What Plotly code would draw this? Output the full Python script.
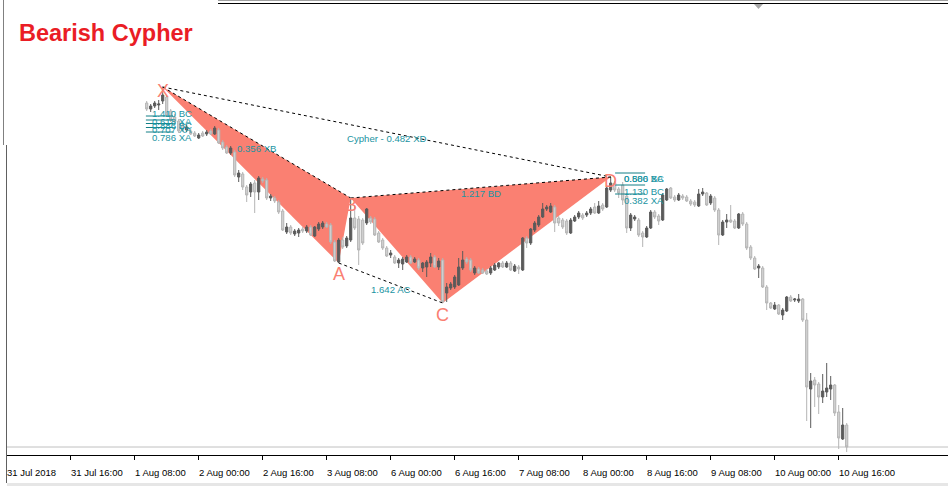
import plotly.graph_objects as go

# ---------------- data (H1 bars, x = bar number from 31 Jul 2018 00:00) ----------------
bars = list(range(35, 211))
opens = [
    1.1697, 1.1691, 1.1694, 1.1695, 1.1699, 1.1703, 1.1689, 1.1683, 1.1679, 1.1675,
    1.1670, 1.1669, 1.1667, 1.1662, 1.1667, 1.1666, 1.1669, 1.1666, 1.1670, 1.1658,
    1.1653, 1.1647, 1.1648, 1.1623, 1.1626, 1.1613, 1.1608, 1.1617, 1.1608, 1.1621,
    1.1620, 1.1602, 1.1602, 1.1598, 1.1589, 1.1568, 1.1573, 1.1566, 1.1567, 1.1571,
    1.1569, 1.1573, 1.1564, 1.1571, 1.1573, 1.1576, 1.1575, 1.1558, 1.1538, 1.1560,
    1.1554, 1.1560, 1.1582, 1.1581, 1.1580, 1.1577, 1.1582, 1.1581, 1.1567, 1.1560,
    1.1552, 1.1545, 1.1543, 1.1537, 1.1536, 1.1538, 1.1543, 1.1538, 1.1540, 1.1532,
    1.1533, 1.1537, 1.1543, 1.1533, 1.1540, 1.1507, 1.1512, 1.1513, 1.1515, 1.1532,
    1.1541, 1.1540, 1.1527, 1.1531, 1.1530, 1.1529, 1.1527, 1.1530, 1.1533, 1.1537,
    1.1533, 1.1537, 1.1529, 1.1533, 1.1530, 1.1562, 1.1557, 1.1570, 1.1575, 1.1583,
    1.1591, 1.1588, 1.1593, 1.1582, 1.1580, 1.1579, 1.1567, 1.1579, 1.1583, 1.1585,
    1.1585, 1.1587, 1.1593, 1.1587, 1.1595, 1.1593, 1.1610, 1.1617, 1.1611, 1.1615,
    1.1604, 1.1572, 1.1581, 1.1580, 1.1567, 1.1563, 1.1572, 1.1588, 1.1584, 1.1580,
    1.1600, 1.1612, 1.1603, 1.1600, 1.1604, 1.1603, 1.1599, 1.1598, 1.1594, 1.1606,
    1.1607, 1.1597, 1.1602, 1.1590, 1.1565, 1.1578, 1.1580, 1.1579, 1.1572, 1.1586,
    1.1576, 1.1553, 1.1542, 1.1532, 1.1532, 1.1513, 1.1497, 1.1491, 1.1495, 1.1485,
    1.1489, 1.1503, 1.1500, 1.1499, 1.1501, 1.1480, 1.1411, 1.1420, 1.1416, 1.1403,
    1.1408, 1.1411, 1.1415, 1.1388, 1.1361, 1.1375,
]
highs = [
    1.1699, 1.1696, 1.1699, 1.1700, 1.1713, 1.1705, 1.1691, 1.1686, 1.1681, 1.1677,
    1.1675, 1.1671, 1.1669, 1.1667, 1.1669, 1.1670, 1.1671, 1.1674, 1.1672, 1.1660,
    1.1655, 1.1654, 1.1650, 1.1630, 1.1628, 1.1615, 1.1618, 1.1620, 1.1624, 1.1623,
    1.1622, 1.1606, 1.1604, 1.1600, 1.1591, 1.1577, 1.1575, 1.1571, 1.1572, 1.1573,
    1.1575, 1.1575, 1.1574, 1.1578, 1.1579, 1.1578, 1.1577, 1.1560, 1.1562, 1.1563,
    1.1564, 1.1602, 1.1595, 1.1584, 1.1582, 1.1592, 1.1584, 1.1583, 1.1569, 1.1562,
    1.1554, 1.1550, 1.1545, 1.1542, 1.1543, 1.1545, 1.1545, 1.1543, 1.1542, 1.1538,
    1.1540, 1.1547, 1.1545, 1.1542, 1.1542, 1.1517, 1.1518, 1.1525, 1.1542, 1.1549,
    1.1543, 1.1542, 1.1534, 1.1533, 1.1532, 1.1531, 1.1534, 1.1537, 1.1538, 1.1539,
    1.1539, 1.1539, 1.1536, 1.1535, 1.1563, 1.1564, 1.1572, 1.1579, 1.1585, 1.1597,
    1.1595, 1.1597, 1.1595, 1.1584, 1.1582, 1.1581, 1.1582, 1.1585, 1.1589, 1.1587,
    1.1589, 1.1593, 1.1597, 1.1599, 1.1597, 1.1614, 1.1623, 1.1619, 1.1613, 1.1618,
    1.1607, 1.1587, 1.1585, 1.1582, 1.1569, 1.1574, 1.1590, 1.1590, 1.1586, 1.1607,
    1.1612, 1.1613, 1.1605, 1.1607, 1.1606, 1.1605, 1.1601, 1.1600, 1.1611, 1.1612,
    1.1608, 1.1606, 1.1604, 1.1592, 1.1580, 1.1586, 1.1595, 1.1581, 1.1587, 1.1588,
    1.1578, 1.1555, 1.1544, 1.1536, 1.1534, 1.1515, 1.1498, 1.1498, 1.1496, 1.1492,
    1.1504, 1.1505, 1.1502, 1.1506, 1.1502, 1.1487, 1.1427, 1.1423, 1.1418, 1.1426,
    1.1437, 1.1424, 1.1416, 1.1395, 1.1392, 1.1377,
]
lows = [
    1.1689, 1.1688, 1.1692, 1.1690, 1.1696, 1.1683, 1.1678, 1.1676, 1.1667, 1.1668,
    1.1668, 1.1665, 1.1663, 1.1661, 1.1663, 1.1664, 1.1665, 1.1665, 1.1656, 1.1650,
    1.1646, 1.1645, 1.1623, 1.1618, 1.1610, 1.1598, 1.1603, 1.1587, 1.1600, 1.1617,
    1.1600, 1.1599, 1.1597, 1.1586, 1.1569, 1.1566, 1.1565, 1.1564, 1.1563, 1.1567,
    1.1567, 1.1564, 1.1563, 1.1569, 1.1571, 1.1572, 1.1556, 1.1538, 1.1537, 1.1551,
    1.1552, 1.1558, 1.1570, 1.1535, 1.1555, 1.1575, 1.1576, 1.1564, 1.1557, 1.1550,
    1.1543, 1.1542, 1.1536, 1.1532, 1.1530, 1.1537, 1.1536, 1.1537, 1.1530, 1.1528,
    1.1523, 1.1533, 1.1532, 1.1530, 1.1497, 1.1498, 1.1510, 1.1511, 1.1514, 1.1530,
    1.1536, 1.1528, 1.1525, 1.1526, 1.1526, 1.1525, 1.1525, 1.1529, 1.1531, 1.1532,
    1.1532, 1.1529, 1.1528, 1.1526, 1.1529, 1.1552, 1.1555, 1.1568, 1.1573, 1.1582,
    1.1589, 1.1587, 1.1568, 1.1574, 1.1571, 1.1565, 1.1566, 1.1578, 1.1581, 1.1580,
    1.1583, 1.1585, 1.1586, 1.1586, 1.1589, 1.1592, 1.1608, 1.1608, 1.1602, 1.1595,
    1.1567, 1.1569, 1.1579, 1.1563, 1.1553, 1.1562, 1.1571, 1.1581, 1.1575, 1.1579,
    1.1599, 1.1601, 1.1598, 1.1599, 1.1600, 1.1598, 1.1594, 1.1593, 1.1593, 1.1604,
    1.1594, 1.1595, 1.1588, 1.1555, 1.1564, 1.1572, 1.1577, 1.1571, 1.1571, 1.1574,
    1.1550, 1.1540, 1.1530, 1.1522, 1.1512, 1.1490, 1.1491, 1.1490, 1.1485, 1.1480,
    1.1488, 1.1498, 1.1498, 1.1497, 1.1478, 1.1379, 1.1372, 1.1393, 1.1386, 1.1397,
    1.1403, 1.1400, 1.1384, 1.1351, 1.1360, 1.1348,
]
closes = [
    1.1691, 1.1694, 1.1697, 1.1696, 1.1705, 1.1685, 1.1680, 1.1678, 1.1669, 1.1670,
    1.1673, 1.1666, 1.1664, 1.1665, 1.1664, 1.1668, 1.1666, 1.1672, 1.1657, 1.1652,
    1.1647, 1.1652, 1.1625, 1.1627, 1.1613, 1.1605, 1.1616, 1.1608, 1.1622, 1.1619,
    1.1602, 1.1604, 1.1599, 1.1588, 1.1570, 1.1573, 1.1567, 1.1569, 1.1570, 1.1569,
    1.1573, 1.1565, 1.1573, 1.1576, 1.1577, 1.1573, 1.1558, 1.1539, 1.1560, 1.1553,
    1.1562, 1.1582, 1.1572, 1.1550, 1.1557, 1.1591, 1.1578, 1.1565, 1.1558, 1.1552,
    1.1544, 1.1547, 1.1537, 1.1540, 1.1541, 1.1543, 1.1537, 1.1541, 1.1532, 1.1537,
    1.1538, 1.1543, 1.1533, 1.1539, 1.1498, 1.1513, 1.1516, 1.1523, 1.1533, 1.1540,
    1.1538, 1.1530, 1.1532, 1.1527, 1.1527, 1.1526, 1.1532, 1.1535, 1.1537, 1.1533,
    1.1537, 1.1530, 1.1534, 1.1531, 1.1562, 1.1557, 1.1571, 1.1577, 1.1583, 1.1591,
    1.1593, 1.1594, 1.1577, 1.1577, 1.1573, 1.1567, 1.1580, 1.1583, 1.1587, 1.1582,
    1.1587, 1.1591, 1.1587, 1.1594, 1.1591, 1.1612, 1.1617, 1.1610, 1.1607, 1.1600,
    1.1572, 1.1585, 1.1583, 1.1565, 1.1563, 1.1572, 1.1588, 1.1583, 1.1579, 1.1605,
    1.1611, 1.1602, 1.1600, 1.1605, 1.1602, 1.1599, 1.1596, 1.1595, 1.1606, 1.1608,
    1.1595, 1.1604, 1.1590, 1.1565, 1.1578, 1.1580, 1.1578, 1.1572, 1.1586, 1.1576,
    1.1552, 1.1542, 1.1531, 1.1534, 1.1513, 1.1497, 1.1492, 1.1495, 1.1486, 1.1490,
    1.1503, 1.1499, 1.1501, 1.1501, 1.1480, 1.1413, 1.1419, 1.1415, 1.1403, 1.1409,
    1.1412, 1.1415, 1.1387, 1.1362, 1.1375, 1.1353,
]

tick_bars = list(range(0, 209, 16))
tick_labels = ["31 Jul 2018", "31 Jul 16:00", "1 Aug 08:00", "2 Aug 00:00", "2 Aug 16:00",
               "3 Aug 08:00", "6 Aug 00:00", "6 Aug 16:00", "7 Aug 08:00", "8 Aug 00:00",
               "8 Aug 16:00", "9 Aug 08:00", "10 Aug 00:00", "10 Aug 16:00"]

# harmonic pattern points
pattern_names = ["X", "A", "B", "C", "D"]
pattern_bars = [39, 83, 86, 109, 151]
pattern_prices = [1.1713, 1.1537, 1.1602, 1.1497, 1.1623]

# ratio labels (legs)
legs = [("X", "B"), ("A", "C"), ("B", "D"), ("X", "D")]
leg_texts = ["0.356 XB", "1.642 AC", "1.217 BD", "Cypher - 0.482 XD"]

# fibonacci level marks
fib_x_levels = [1.1684, 1.1680, 1.16765, 1.16725, 1.1668]
fib_x_label_prices = [1.16865, 1.1679, 1.16745, 1.16705, 1.1663]
fib_x_labels = ["1.410 BC", "0.618 XA", "0.886 BC", "0.707 XA", "0.786 XA"]
fib_d_levels = [1.1627, 1.1615, 1.1606]
fib_d_label_prices = [1.1622, 1.1622, 1.1609, 1.15995]
fib_d_labels = ["0.500 BC", "0.886 XA", "1.130 BC", "0.382 XA"]

title_text = "Bearish Cypher"

# ---------------- layout geometry ----------------
W, H = 948, 486
ML, MR, MT, MB = 6, 0, 3, 31
PW, PH = W - ML - MR, H - MT - MB
BAR_PX = 4.0
x0 = (ML - 6.7) / BAR_PX
xr = [x0, x0 + PW / BAR_PX]
yr = [1.1345, 1.1797]

def pxx(px):
    return (px - ML) / PW

def pxy(py):
    return (H - MB - py) / PH

FONT = "Liberation Sans, Arial, sans-serif"
SALMON = "#FA8072"
TEAL = "#1A94A2"
TEAL_LINE = "#127F86"

fig = go.Figure()
P = dict(zip(pattern_names, zip(pattern_bars, pattern_prices)))

shapes = []
# filled triangles (behind candles)
for tri in (("X", "A", "B"), ("B", "C", "D")):
    pts = [P[n] for n in tri]
    path = "M {},{} L {},{} L {},{} Z".format(*[v for p in pts for v in p])
    shapes.append(dict(type="path", path=path, xref="x", yref="y",
                       fillcolor=SALMON, line=dict(width=0), layer="below"))
# bid line at last close
shapes.append(dict(type="line", xref="paper", yref="y", x0=0.0, x1=1.0,
                   y0=closes[-1], y1=closes[-1], line=dict(color="#C0C0C0", width=1),
                   layer="below"))
# window decorations
shapes += [
    dict(type="line", xref="paper", yref="paper", x0=pxx(218), x1=pxx(948),
         y0=pxy(0.5), y1=pxy(0.5), line=dict(color="#A0A0A0", width=1)),
    dict(type="line", xref="paper", yref="paper", x0=pxx(218), x1=pxx(948),
         y0=pxy(3.5), y1=pxy(3.5), line=dict(color="#000000", width=1)),
    dict(type="line", xref="paper", yref="paper", x0=pxx(3.5), x1=pxx(3.5),
         y0=pxy(0), y1=pxy(145), line=dict(color="#808080", width=1)),
    dict(type="line", xref="paper", yref="paper", x0=pxx(6.5), x1=pxx(6.5),
         y0=pxy(145), y1=pxy(483), line=dict(color="#606060", width=1)),
    dict(type="rect", xref="paper", yref="paper", x0=pxx(7), x1=pxx(948),
         y0=pxy(486), y1=pxy(483), fillcolor="#E6E6E6", line=dict(width=0)),
    dict(type="path", xref="paper", yref="paper",
         path="M {},{} L {},{} L {},{} Z".format(pxx(754), pxy(4), pxx(763), pxy(4),
                                                 pxx(758.5), pxy(9)),
         fillcolor="#A8A8A8", line=dict(width=0)),
]

# candles
fig.add_trace(go.Candlestick(
    x=bars, open=opens, high=highs, low=lows, close=closes,
    increasing=dict(line=dict(color="#5A5A5A", width=1), fillcolor="#5A5A5A"),
    decreasing=dict(line=dict(color="#B4B4B4", width=1), fillcolor="#D2D2D2"),
    whiskerwidth=0, showlegend=False, hoverinfo="skip"))

# dashed pattern legs
for a, b in legs:
    fig.add_trace(go.Scatter(x=[P[a][0], P[b][0]], y=[P[a][1], P[b][1]], mode="lines",
                             line=dict(color="black", width=1, dash="3px,3px"),
                             showlegend=False, hoverinfo="skip"))

# fib level lines
for lv in fib_x_levels:
    fig.add_trace(go.Scatter(x=[34.8, 41.6], y=[lv, lv], mode="lines",
                             line=dict(color=TEAL_LINE, width=1),
                             showlegend=False, hoverinfo="skip"))
for lv in fib_d_levels:
    fig.add_trace(go.Scatter(x=[152.1, 159.6], y=[lv, lv], mode="lines",
                             line=dict(color=TEAL_LINE, width=1),
                             showlegend=False, hoverinfo="skip"))

ann = []
small = dict(family=FONT, size=9.6, color=TEAL)
for (a, b), t in zip(legs, leg_texts):
    ann.append(dict(x=(P[a][0] + P[b][0]) / 2, y=(P[a][1] + P[b][1]) / 2, text=t,
                    showarrow=False, xanchor="center", yanchor="middle", yshift=-6,
                    font=small))
for t, pr in zip(fib_x_labels, fib_x_label_prices):
    ann.append(dict(x=36.3, y=pr, text=t, showarrow=False, xanchor="left",
                    yanchor="middle", xshift=-2, font=small))
for t, pr in zip(fib_d_labels, fib_d_label_prices):
    ann.append(dict(x=154.3, y=pr, text=t, showarrow=False, xanchor="left",
                    yanchor="middle", xshift=-2, font=small))
point_shift = {"X": -4, "A": -11, "B": -7, "C": -12, "D": -4}
for n in pattern_names:
    ann.append(dict(x=P[n][0], y=P[n][1], text=n, showarrow=False, xanchor="center",
                    yanchor="middle", yshift=point_shift[n],
                    font=dict(family=FONT, size=18, color=SALMON)))
for tb, tl in zip(tick_bars, tick_labels):
    ann.append(dict(x=tb, xref="x", y=pxy(472), yref="paper", text=tl, showarrow=False,
                    xanchor="left", yanchor="middle", xshift=-2,
                    font=dict(family=FONT, size=9.5, color="black")))
ann.append(dict(x=pxx(17), y=pxy(33), xref="paper", yref="paper", text="<b>" + title_text + "</b>",
                showarrow=False, xanchor="left", yanchor="middle",
                font=dict(family=FONT, size=23.5, color="#EA1D25")))

fig.update_layout(
    width=W, height=H, margin=dict(l=ML, r=MR, t=MT, b=MB, pad=0),
    paper_bgcolor="white", plot_bgcolor="white", showlegend=False,
    shapes=shapes, annotations=ann,
    xaxis=dict(range=xr, showgrid=False, zeroline=False, showline=True, linecolor="black",
               linewidth=1, ticks="outside", ticklen=4, tickcolor="black", tickwidth=1,
               tickvals=tick_bars, showticklabels=False, rangeslider=dict(visible=False),
               fixedrange=True),
    yaxis=dict(range=yr, visible=False, fixedrange=True),
    boxgap=0.22,
)

fig.write_html("out.html", config=dict(displayModeBar=False),
               post_script="document.body.style.margin='0';document.body.style.overflow='hidden';")
